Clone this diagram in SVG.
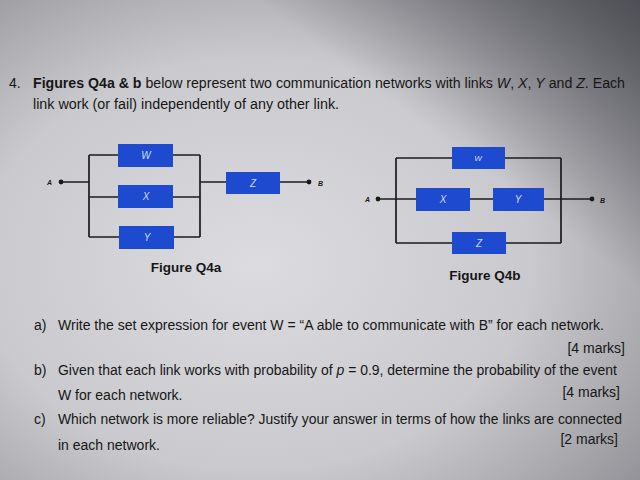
<svg xmlns="http://www.w3.org/2000/svg" width="640" height="480" viewBox="0 0 640 480">
<defs>
<radialGradient id="bg" cx="0.4" cy="0.55" r="0.78">
<stop offset="0" stop-color="#dcdce0"/>
<stop offset="0.55" stop-color="#cacace"/>
<stop offset="1" stop-color="#8e8e94"/>
</radialGradient>
<linearGradient id="tr" x1="1" y1="0" x2="0.7" y2="0.3">
<stop offset="0" stop-color="#3a3a42" stop-opacity="0.75"/>
<stop offset="1" stop-color="#3a3a42" stop-opacity="0"/>
</linearGradient>
<style>
.t{font-family:"Liberation Sans",Arial,sans-serif;font-size:14px;fill:#161616}
.b{font-weight:bold}
.i{font-style:italic}
.box{fill:#1e4acf}
.bl{font-family:"Liberation Sans",Arial,sans-serif;font-size:10px;font-style:italic;fill:#cfdcff;text-anchor:middle;dominant-baseline:central}
.ln{stroke:#1c1c1c;stroke-width:1.7;fill:none}
.term{font-family:"Liberation Sans",Arial,sans-serif;font-size:7px;font-weight:bold;font-style:italic;fill:#1a1a1a;dominant-baseline:central}
.cap{font-family:"Liberation Sans",Arial,sans-serif;font-size:13.5px;font-weight:bold;fill:#161616;text-anchor:middle}
</style>
</defs>
<rect width="640" height="480" fill="url(#bg)"/>
<rect width="640" height="480" fill="url(#tr)"/>

<text class="t" x="9" y="88">4.</text>
<text class="t" x="33" y="88" textLength="592" lengthAdjust="spacingAndGlyphs"><tspan class="b">Figures Q4a &amp; b</tspan> below represent two communication networks with links <tspan class="i">W</tspan>, <tspan class="i">X</tspan>, <tspan class="i">Y</tspan> and <tspan class="i">Z</tspan>. Each</text>
<text class="t" x="33" y="109" textLength="306" lengthAdjust="spacingAndGlyphs">link work (or fail) independently of any other link.</text>

<g id="connectors">
<path class="ln" d="M61 182H89M89 155V237M89 155H118M173 155H200M89 197H118M173 197H200M89 237H119M174 237H200M200 155V237M200 182H226M280 182H309"/>
<path class="ln" d="M378 199H416M470 199H493M544 199H592M396 158V243M561 158V243M396 158H452M505 158H561M396 243H452M506 243H561"/>
</g>

<g id="a-A"><circle cx="61" cy="182" r="2.4" fill="#1a1a1a"/><text class="term" x="47" y="182">A</text></g>
<g id="a-W"><rect class="box" x="118" y="144" width="55" height="23"/><text class="bl" x="146" y="155.5">W</text></g>
<g id="a-X"><rect class="box" x="118" y="185" width="55" height="23"/><text class="bl" x="146" y="196.5">X</text></g>
<g id="a-Y"><rect class="box" x="119" y="226" width="55" height="23"/><text class="bl" x="147" y="237.5">Y</text></g>
<g id="a-Z"><rect class="box" x="226" y="172" width="54" height="22"/><text class="bl" x="253" y="183">Z</text></g>
<g id="a-B"><circle cx="309" cy="182" r="2.4" fill="#1a1a1a"/><text class="term" x="318" y="183">B</text></g>
<text class="cap" x="186" y="272">Figure Q4a</text>

<g id="b-A"><circle cx="378" cy="199" r="2.4" fill="#1a1a1a"/><text class="term" x="365" y="199">A</text></g>
<g id="b-W"><rect class="box" x="452" y="147" width="53" height="22"/><text class="bl" x="478" y="158" style="font-size:8px">W</text></g>
<g id="b-X"><rect class="box" x="416" y="188" width="54" height="23"/><text class="bl" x="443" y="199.5">X</text></g>
<g id="b-Y"><rect class="box" x="493" y="188" width="51" height="23"/><text class="bl" x="518" y="199.5">Y</text></g>
<g id="b-Z"><rect class="box" x="452" y="232" width="54" height="22"/><text class="bl" x="479" y="243">Z</text></g>
<g id="b-B"><circle cx="592" cy="199" r="2.4" fill="#1a1a1a"/><text class="term" x="600" y="200">B</text></g>
<text class="cap" x="485" y="280">Figure Q4b</text>

<text class="t" x="34" y="330">a)</text>
<text class="t" x="58" y="330" textLength="546" lengthAdjust="spacingAndGlyphs">Write the set expression for event W = “A able to communicate with B” for each network.</text>
<text class="t" x="625" y="353" text-anchor="end">[4 marks]</text>
<text class="t" x="34" y="375">b)</text>
<text class="t" x="58" y="375" textLength="559" lengthAdjust="spacingAndGlyphs">Given that each link works with probability of <tspan class="i">p</tspan> = 0.9, determine the probability of the event</text>
<text class="t" x="58" y="400">W for each network.</text>
<text class="t" x="620" y="397" text-anchor="end">[4 marks]</text>
<text class="t" x="34" y="424">c)</text>
<text class="t" x="58" y="424" textLength="564" lengthAdjust="spacingAndGlyphs">Which network is more reliable? Justify your answer in terms of how the links are connected</text>
<text class="t" x="58" y="450">in each network.</text>
<text class="t" x="618" y="444" text-anchor="end">[2 marks]</text>
</svg>
